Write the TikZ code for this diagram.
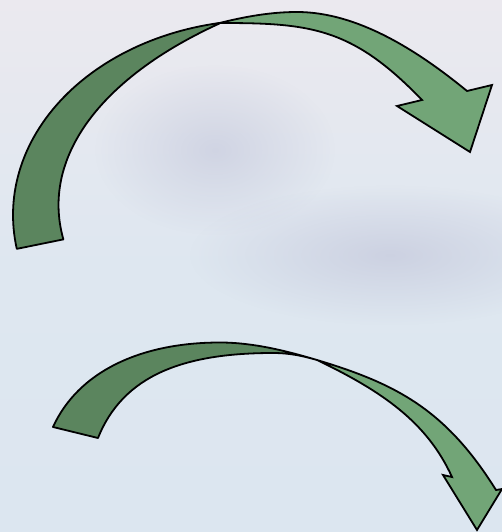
\documentclass[tikz,border=0pt]{standalone}
\usetikzlibrary{shadings,fadings}
\definecolor{bgtop}{RGB}{235,233,239}
\definecolor{bgmid}{RGB}{222,231,240}
\definecolor{bgbot}{RGB}{220,230,240}
\definecolor{blob}{RGB}{200,204,222}
\definecolor{darkgreen}{RGB}{91,133,94}
\definecolor{lightgreen}{RGB}{114,165,119}
\tikzfading[name=softblob, inner color=transparent!0, outer color=transparent!100]
\tikzset{
  backpart/.style={fill=darkgreen,draw=black,line width=1.8pt,line join=round},
  frontpart/.style={fill=lightgreen,draw=black,line width=1.8pt,line join=miter},
  haze/.style={fill=blob,path fading=softblob,fit fading=true}
}
\begin{document}
\begin{tikzpicture}[x=1pt,y=-1pt]
\useasboundingbox (0,0) rectangle (502,532);
% background
\shade[top color=bgtop,bottom color=bgbot,middle color=bgmid] (0,0) rectangle (502,532);
\begin{scope}
\clip (0,0) rectangle (502,532);
\fill[haze,opacity=0.7] (215,150) ellipse (120 and 85);
\fill[haze,opacity=0.8] (390,255) ellipse (200 and 70);
\end{scope}
% crossover points
\coordinate (X1) at (219.6,23);
\coordinate (X2) at (317,360);
% upper arrow: back (dark) half
\filldraw[backpart] plot[domain=190:100,samples=60,variable=\t] ({263+250*cos(\t)},{215-195*sin(\t)})
  -- plot[domain=132.7:188,samples=60,variable=\t] ({558.5+500*cos(\t)},{205-247*sin(\t)}) -- cycle;
% upper arrow: front (light) half with head
\filldraw[frontpart] (X1) .. controls (245.6,16.5) and (271,12) .. (297,12)
  .. controls (357,12) and (417,50) .. (467,91)
  -- (492,85) -- (470,152) -- (397,106) -- (422,100)
  .. controls (352,27.2) and (310,23) .. (X1) -- cycle;
% lower arrow: back (dark) half
\filldraw[backpart] (53,427) .. controls (78,372) and (140,342.5) .. (220,342.5)
  .. controls (255,342.5) and (290,352) .. (X2)
  .. controls (303,356) and (290,353) .. (273,353)
  .. controls (183,353) and (123,375.5) .. (98,438) -- cycle;
% lower arrow: front (light) half with head
\filldraw[frontpart] (X2) .. controls (397,384) and (446,410) .. (496,490)
  -- (502,489) -- (477,530) -- (443,475) -- (452,477)
  .. controls (427,422) and (382,391.2) .. (X2) -- cycle;
\end{tikzpicture}
\end{document}
